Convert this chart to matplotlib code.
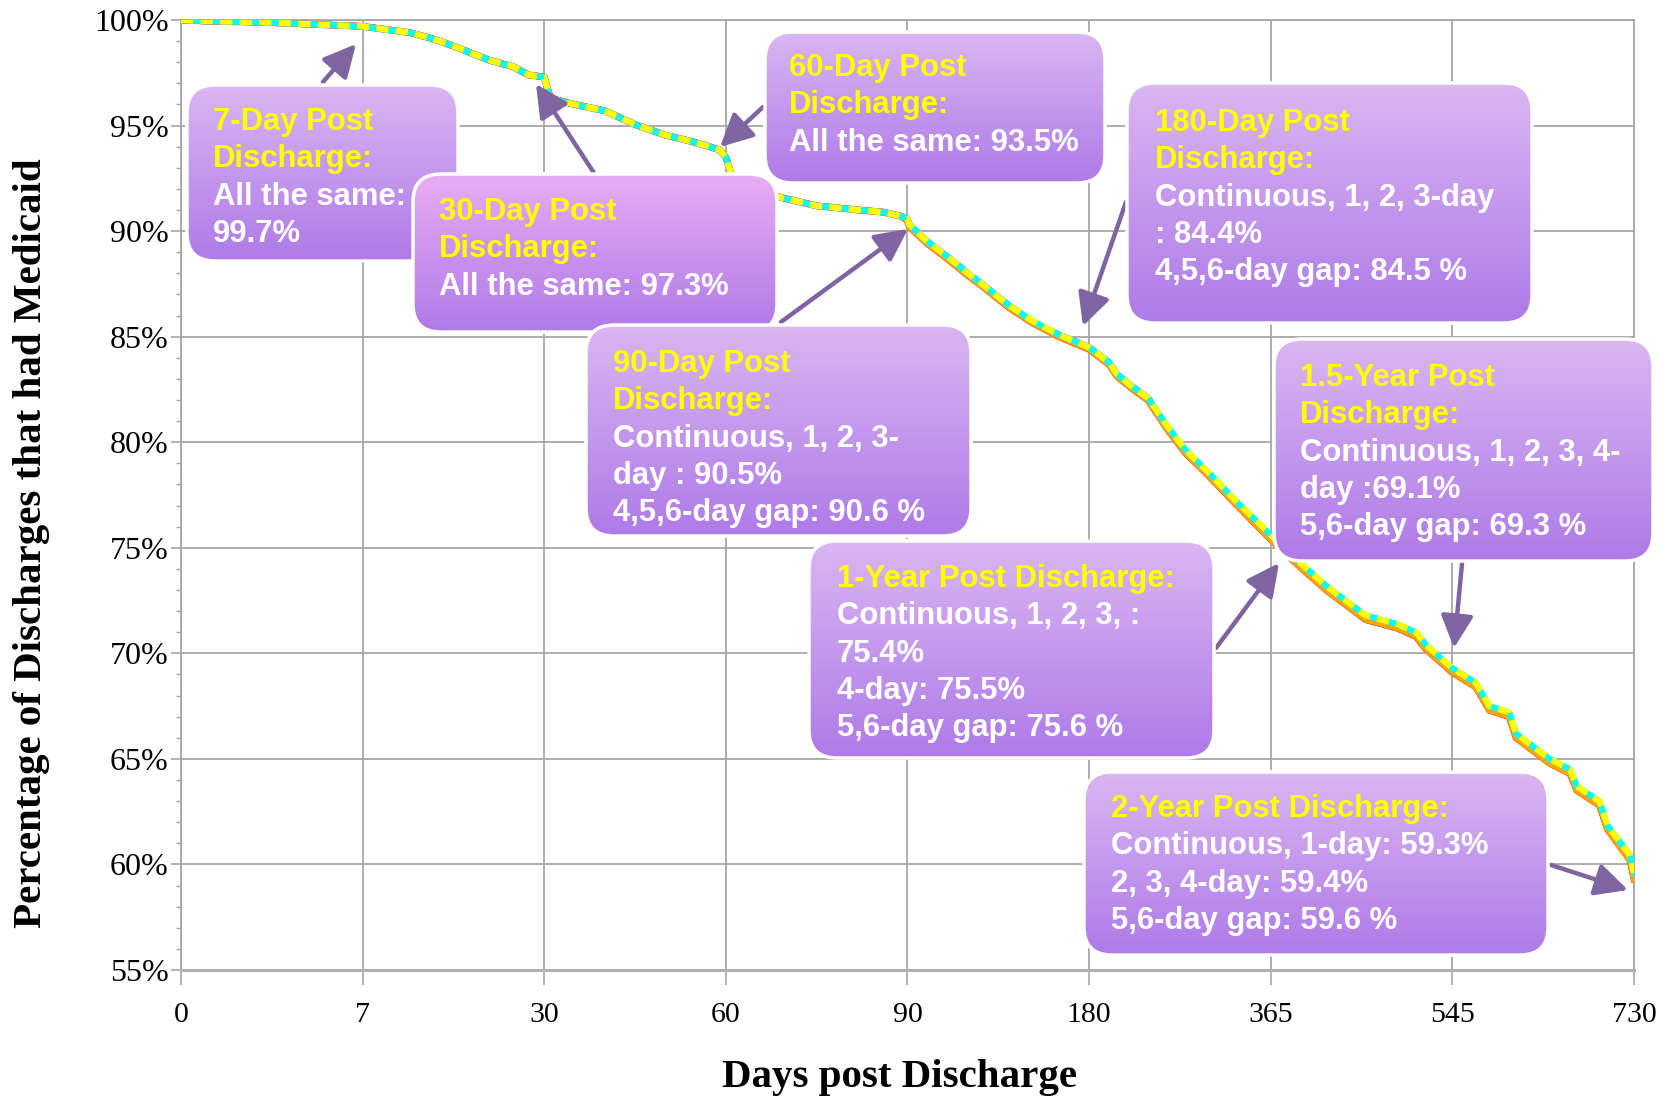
import numpy as np
import matplotlib
matplotlib.use('Agg')
import matplotlib.pyplot as plt
from matplotlib.patches import FancyBboxPatch
from matplotlib.ticker import FixedLocator, MultipleLocator, NullLocator, FuncFormatter

# ---------------- data ----------------
tick_days = [0, 7, 30, 60, 90, 180, 365, 545, 730]
y_ticks = [55, 60, 65, 70, 75, 80, 85, 90, 95, 100]

days = [0, 1, 3, 5, 7, 10, 13, 16, 19, 23, 26, 28, 30, 31, 35, 40, 45, 50, 55, 59,
        60, 61, 63, 66, 69, 75, 82, 86, 89,
        90, 91, 100, 111, 120, 127, 140, 152, 165, 180, 200, 209, 225, 240, 260, 278,
        300, 329, 350, 365, 394, 420, 459, 490, 509, 519, 545, 569, 583, 603, 610,
        644, 665, 672, 695, 703, 726, 730]

# first 60+ days are the same for every gap definition
pct_early = [100, 99.95, 99.9, 99.8, 99.7, 99.55, 99.4, 99.1, 98.7, 98.1, 97.8, 97.4, 97.3,
             96.3, 96.0, 95.7, 95.05, 94.55, 94.2, 93.85, 93.5, 92.6, 92.2, 91.9, 91.6,
             91.2, 91.0, 90.9, 90.7]

late_cont_1day = [90.5, 90.2, 89.4, 88.6, 87.9, 87.4, 86.4, 85.65, 85.0, 84.4, 83.7, 83.1,
                  82.5, 82.0, 80.6, 79.5, 78.5, 77.1, 76.1, 75.4, 74.1, 73.0, 71.6, 71.2,
                  70.8, 70.2, 69.1, 68.4, 67.3, 67.0, 66.0, 64.8, 64.3, 63.5, 62.8, 61.65,
                  60.2, 59.3]
late_2_3day = [90.5, 90.2, 89.4, 88.6, 87.9, 87.4, 86.4, 85.65, 85.0, 84.4, 83.7, 83.1,
               82.5, 82.0, 80.6, 79.5, 78.5, 77.1, 76.1, 75.4, 74.1, 73.0, 71.6, 71.2,
               70.8, 70.2, 69.1, 68.4, 67.3, 67.0, 66.0, 64.8, 64.3, 63.5, 62.8, 61.7,
               60.25, 59.4]
late_4day = [90.6, 90.3, 89.5, 88.7, 88.0, 87.5, 86.5, 85.7, 85.1, 84.5, 83.8, 83.2,
             82.6, 82.1, 80.7, 79.6, 78.6, 77.2, 76.2, 75.5, 74.2, 73.05, 71.6, 71.2,
             70.8, 70.2, 69.1, 68.45, 67.35, 67.05, 66.05, 64.85, 64.35, 63.55, 62.85, 61.7,
             60.3, 59.4]
late_5_6day = [90.6, 90.3, 89.5, 88.7, 88.0, 87.5, 86.5, 85.75, 85.1, 84.5, 83.8, 83.2,
               82.6, 82.1, 80.75, 79.65, 78.65, 77.25, 76.3, 75.6, 74.3, 73.2, 71.8, 71.4,
               71.0, 70.4, 69.3, 68.6, 67.5, 67.2, 66.2, 65.0, 64.5, 63.7, 63.0, 61.85,
               60.45, 59.6]

pct_continuous = pct_early + late_cont_1day
pct_1day = pct_early + late_cont_1day
pct_2day = pct_early + late_2_3day
pct_3day = pct_early + late_2_3day
pct_4day = pct_early + late_4day
pct_5day = pct_early + late_5_6day
pct_6day = pct_early + late_5_6day

# ---------------- annotation boxes (text) ----------------
box_texts = [
    (["7-Day Post", "Discharge:"], ["All the same:", "99.7%"]),
    (["30-Day Post", "Discharge:"], ["All the same: 97.3%"]),
    (["60-Day Post", "Discharge:"], ["All the same: 93.5%"]),
    (["90-Day Post", "Discharge:"], ["Continuous, 1, 2, 3-", "day : 90.5%", "4,5,6-day gap: 90.6 %"]),
    (["180-Day Post", "Discharge:"], ["Continuous, 1, 2, 3-day", ": 84.4%", "4,5,6-day gap: 84.5 %"]),
    (["1.5-Year Post", "Discharge:"], ["Continuous, 1, 2, 3, 4-", "day :69.1%", "5,6-day gap: 69.3 %"]),
    (["1-Year Post Discharge:"], ["Continuous, 1, 2, 3, :", "75.4%", "4-day: 75.5%", "5,6-day gap: 75.6 %"]),
    (["2-Year Post Discharge:"], ["Continuous, 1-day: 59.3%", "2, 3, 4-day: 59.4%", "5,6-day gap: 59.6 %"]),
]


def fwd(x):
    return np.interp(x, tick_days, np.arange(len(tick_days)))


def inv(x):
    return np.interp(x, np.arange(len(tick_days)), tick_days)


def draw_box(ov, x0, y0, x1, y1, top_col, z):
    """Rounded box with vertical purple gradient (overlay pixel coords)"""
    patch = FancyBboxPatch((x0, y0), x1 - x0, y1 - y0,
                           boxstyle="round,pad=0,rounding_size=28",
                           facecolor='none', edgecolor='white', linewidth=2.5, zorder=z + 0.5)
    ov.add_patch(patch)
    bottom_col = np.array([174, 122, 232]) / 255.0
    top_col = np.array(top_col) / 255.0
    t = np.linspace(0, 1, 256)[:, None, None]
    grad = top_col[None, None, :] * (1 - t) + bottom_col[None, None, :] * t
    im = ov.imshow(grad, extent=(x0, x1, y1, y0), aspect='auto', zorder=z,
                   interpolation='bilinear')
    im.set_clip_path(patch)


def main():
    fig = plt.figure(figsize=(16.7, 11), dpi=100)
    ax = fig.add_axes([0.1084, 0.1182, 0.870, 0.8636])

    ax.set_xscale('function', functions=(fwd, inv))
    ax.set_xlim(0, 730)
    ax.set_ylim(55, 100)

    # vẽ các đường (chồng lên nhau gần như trùng khít)
    ax.plot(days, pct_3day, color='#FFB6C1', lw=5.2, zorder=3)
    ax.plot(days, pct_4day, color='#9370DB', lw=4.8, zorder=3)
    ax.plot(days, pct_2day, color='#92D050', lw=4.6, zorder=3)
    ax.plot(days, pct_continuous, color='#FF0000', lw=4.6, zorder=3)
    ax.plot(days, pct_1day, color='#FFA500', lw=4.4, zorder=3)
    ax.plot(days, pct_5day, color='#00FFFF', lw=4.4, zorder=3)
    ax.plot(days, pct_6day, color='#FFFF00', lw=4.4, zorder=3, dashes=(2.0, 1.2))

    grid_col = '#A6A6A6'
    ax.xaxis.set_major_locator(FixedLocator(tick_days))
    ax.xaxis.set_minor_locator(NullLocator())
    ax.set_xticklabels([str(d) for d in tick_days])
    ax.yaxis.set_major_locator(FixedLocator(y_ticks))
    ax.yaxis.set_minor_locator(MultipleLocator(1))
    ax.yaxis.set_major_formatter(FuncFormatter(lambda v, p: f"{int(v)}%"))
    ax.grid(True, which='major', color=grid_col, lw=1.3)
    for s in ax.spines.values():
        s.set_color(grid_col)
        s.set_linewidth(1.3)
    ax.spines['bottom'].set_linewidth(2.2)
    ax.spines['bottom'].set_color('#B0B0B0')

    ax.tick_params(axis='x', direction='out', length=11, width=1.2, color=grid_col, pad=12,
                   labelsize=21.5, labelfontfamily='Liberation Serif')
    ax.tick_params(axis='y', which='major', direction='out', length=7, width=1.2,
                   color=grid_col, pad=2, labelsize=23, labelfontfamily='Liberation Serif')
    ax.tick_params(axis='y', which='minor', direction='out', length=3.5, width=1.0,
                   color=grid_col)

    fig.text(900 / 1670, 1 - 1078 / 1100, 'Days post Discharge', ha='center', va='center',
             fontsize=29.5, fontweight='bold', family='Liberation Serif')
    fig.text(32 / 1670, 1 - 543 / 1100, 'Percentage of Discharges that had Medicaid',
             ha='center', va='center', rotation=90, fontsize=29.5, fontweight='bold',
             family='Liberation Serif')

    # lớp phủ để vẽ hộp chú thích và mũi tên (toạ độ pixel)
    ov = fig.add_axes([0, 0, 1, 1], zorder=5)
    ov.set_facecolor('none')
    ov.axis('off')

    arrows = [((323, 82), (356, 44)), ((594, 173), (536, 84)), ((763, 107), (720, 147)),
              ((781, 322), (908, 229)), ((1126, 202), (1083, 326)), ((1216, 648), (1279, 563)),
              ((1462, 564), (1454, 648)), ((1551, 865), (1628, 890))]
    for (tx, ty), (hx, hy) in arrows:
        ov.annotate('', xy=(hx, hy), xytext=(tx, ty),
                    arrowprops=dict(arrowstyle='-|>,head_length=0.9,head_width=0.45',
                                    color='#8064A2', lw=3.2, shrinkA=0, shrinkB=0,
                                    mutation_scale=22), zorder=2)

    boxes = [(187, 85, 458, 261), (413, 174, 777, 332), (765, 32, 1105, 183),
             (586, 325, 971, 536), (1127, 83, 1532, 323), (1274, 339, 1653, 561),
             (809, 541, 1214, 758), (1084, 772, 1548, 955)]
    tops = [(218, 182, 242), (234, 172, 244), (218, 182, 242), (218, 182, 242),
            (218, 182, 242), (218, 182, 242), (218, 182, 242), (218, 182, 242)]
    text_x = [213, 439, 789, 613, 1155, 1300, 837, 1111]
    first_line = [122, 212, 68, 364, 123, 378, 579, 809]
    line_step = 37.3

    for i, ((x0, y0, x1, y1), (head, body)) in enumerate(zip(boxes, box_texts)):
        z = 10 + 3 * i
        draw_box(ov, x0, y0, x1, y1, tops[i], z)
        y = first_line[i]
        for ln in head:
            ov.text(text_x[i], y, ln, color='#FFFF00', fontsize=22.3, fontweight='bold',
                    family='Liberation Sans', va='center', ha='left', zorder=z + 1)
            y += line_step
        for ln in body:
            ov.text(text_x[i], y, ln, color='white', fontsize=22.3, fontweight='bold',
                    family='Liberation Sans', va='center', ha='left', zorder=z + 1)
            y += line_step

    ov.set_xlim(0, 1670)
    ov.set_ylim(1100, 0)

    fig.savefig('out.png', dpi=100)


if __name__ == "__main__":
    main()
